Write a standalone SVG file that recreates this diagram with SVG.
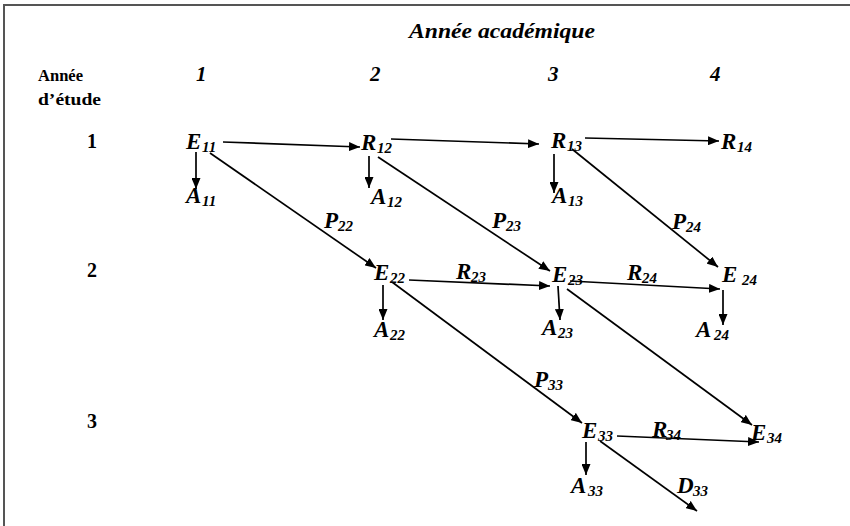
<svg xmlns="http://www.w3.org/2000/svg" width="850" height="526" viewBox="0 0 850 526">
<style>
.n{font-family:"Liberation Serif","DejaVu Serif",serif;font-weight:bold;font-style:italic;font-size:23px;fill:#000}
.s{font-size:15px}
.hd{font-family:"Liberation Serif","DejaVu Serif",serif;font-weight:bold;font-size:17px;fill:#000}
.rn{font-family:"Liberation Serif","DejaVu Serif",serif;font-weight:bold;font-size:20px;fill:#000}
.cn{font-family:"Liberation Serif","DejaVu Serif",serif;font-weight:bold;font-style:italic;font-size:21px;fill:#000}
.c{stroke:#000;stroke-width:1.7;fill:none;marker-end:url(#ah)}
</style>
<defs>
<marker id="ah" markerUnits="userSpaceOnUse" markerWidth="11" markerHeight="9" refX="11" refY="4.5" orient="auto">
<path d="M0,0 L11,4.5 L0,9 z" fill="#000"/>
</marker>
</defs>
<rect width="850" height="526" fill="#fff"/>
<path d="M4,526 L4,5 L850,5" stroke="#555" stroke-width="2" fill="none"/>

<g id="header">
<text class="cn" x="409" y="38" font-size="23" textLength="186" lengthAdjust="spacingAndGlyphs">Année académique</text>
<text class="hd" x="38" y="81" textLength="45" lengthAdjust="spacingAndGlyphs">Année</text>
<text class="hd" x="38" y="105" textLength="63" lengthAdjust="spacingAndGlyphs">d’étude</text>
<text class="cn" x="196" y="81">1</text>
<text class="cn" x="370" y="81">2</text>
<text class="cn" x="548" y="81">3</text>
<text class="cn" x="710" y="81">4</text>
<text class="rn" x="87" y="148">1</text>
<text class="rn" x="87" y="277">2</text>
<text class="rn" x="87" y="428">3</text>
</g>

<g id="connectors">
<path class="c" d="M223,142 L360,147"/>
<path class="c" d="M391,139 L539,144"/>
<path class="c" d="M585,138 L719,141"/>
<path class="c" d="M196,152 L196,189"/>
<path class="c" d="M369,156 L369,188"/>
<path class="c" d="M554,154 L554,193"/>
<path class="c" d="M210,153 L376,268"/>
<path class="c" d="M378,157 L550,271"/>
<path class="c" d="M572,149 L718,267"/>
<path class="c" d="M383,285 L383,320"/>
<path class="c" d="M409,280 L550,286"/>
<path class="c" d="M558,286 L560,320"/>
<path class="c" d="M570,281 L720,289"/>
<path class="c" d="M723,290 L723,325"/>
<path class="c" d="M392,282 L582,423"/>
<path class="c" d="M567,289 L752,425"/>
<path class="c" d="M586,442 L586,475"/>
<path class="c" d="M617,436 L759,442"/>
<path class="c" d="M600,441 L697,511"/>
<text class="n" x="324" y="228">P<tspan class="s" x="338" y="231">22</tspan></text>
<text class="n" x="492" y="228">P<tspan class="s" x="506" y="231">23</tspan></text>
<text class="n" x="672" y="229">P<tspan class="s" x="686" y="232">24</tspan></text>
<text class="n" x="456" y="279">R<tspan class="s" x="471" y="282">23</tspan></text>
<text class="n" x="627" y="280">R<tspan class="s" x="642" y="283">24</tspan></text>
<text class="n" x="534" y="387">P<tspan class="s" x="548" y="390">33</tspan></text>
<text class="n" x="652" y="437">R<tspan class="s" x="666" y="440">34</tspan></text>
</g>

<g id="E11"><text class="n" x="186" y="149">E<tspan class="s" x="202" y="152">11</tspan></text></g>
<g id="A11"><text class="n" x="186" y="203">A<tspan class="s" x="202" y="206">11</tspan></text></g>
<g id="R12"><text class="n" x="361" y="150">R<tspan class="s" x="377" y="153">12</tspan></text></g>
<g id="A12"><text class="n" x="371" y="204">A<tspan class="s" x="387" y="207">12</tspan></text></g>
<g id="R13"><text class="n" x="551" y="148">R<tspan class="s" x="567" y="151">13</tspan></text></g>
<g id="A13"><text class="n" x="552" y="203">A<tspan class="s" x="568" y="206">13</tspan></text></g>
<g id="R14"><text class="n" x="721" y="149">R<tspan class="s" x="737" y="152">14</tspan></text></g>
<g id="E22"><text class="n" x="374" y="280">E<tspan class="s" x="390" y="283">22</tspan></text></g>
<g id="A22"><text class="n" x="374" y="337">A<tspan class="s" x="390" y="340">22</tspan></text></g>
<g id="E23"><text class="n" x="552" y="282">E<tspan class="s" x="568" y="285">23</tspan></text></g>
<g id="A23"><text class="n" x="542" y="335">A<tspan class="s" x="558" y="338">23</tspan></text></g>
<g id="E24"><text class="n" x="722" y="282">E<tspan class="s" x="742" y="285">24</tspan></text></g>
<g id="A24"><text class="n" x="696" y="337">A<tspan class="s" x="714" y="340">24</tspan></text></g>
<g id="E33"><text class="n" x="582" y="438">E<tspan class="s" x="598" y="441">33</tspan></text></g>
<g id="A33"><text class="n" x="571" y="493">A<tspan class="s" x="588" y="496">33</tspan></text></g>
<g id="E34"><text class="n" x="751" y="440">E<tspan class="s" x="767" y="443">34</tspan></text></g>
<g id="D33"><text class="n" x="677" y="493">D<tspan class="s" x="693" y="496">33</tspan></text></g>
</svg>
